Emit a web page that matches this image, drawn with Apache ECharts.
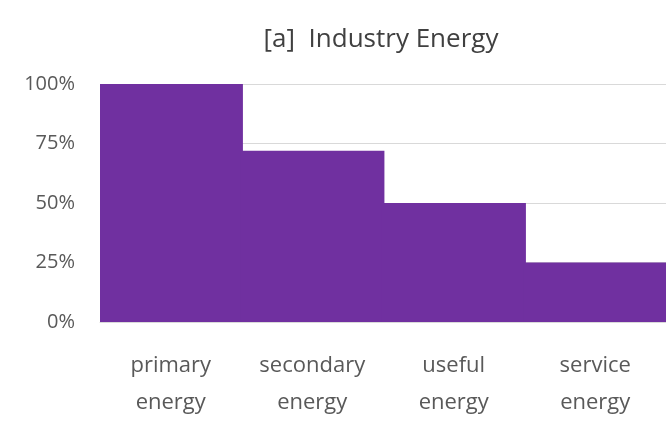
<!DOCTYPE html>
<html>
<head>
<meta charset="utf-8">
<script src="https://cdn.jsdelivr.net/npm/echarts@6/dist/echarts.min.js"></script>
<style>
  html, body { margin: 0; padding: 0; background: #fff; }
  #chart { width: 666px; height: 426px; }
</style>
</head>
<body>
<div id="chart"></div>
<script>
const categories = ['primary\nenergy', 'secondary\nenergy', 'useful\nenergy', 'service\nenergy'];
const shareValues = [100, 72, 50, 25];
const yTicks = [0, 25, 50, 75, 100];

const chart = echarts.init(document.getElementById('chart'));
const font = 'Open Sans, Liberation Sans, sans-serif';

chart.setOption({
  animation: false,
  title: {
    text: '[a]  Industry Energy',
    left: 376,
    top: 22,
    textAlign: 'center',
    textStyle: { fontFamily: font, fontSize: 26, fontWeight: 'normal', color: '#404040' }
  },
  grid: { left: 100, right: 0, top: 84, bottom: 104 },
  xAxis: {
    type: 'category',
    data: categories,
    axisTick: { show: false },
    axisLine: { lineStyle: { color: '#d9d9d9', width: 1 } },
    axisLabel: {
      interval: 0,
      hideOverlap: false,
      margin: 25,
      fontFamily: font,
      fontSize: 22,
      lineHeight: 37,
      color: '#595959'
    }
  },
  yAxis: {
    type: 'value',
    min: yTicks[0],
    max: yTicks[yTicks.length - 1],
    interval: 25,
    axisLine: { show: false },
    axisTick: { show: false },
    splitLine: { lineStyle: { color: '#d9d9d9', width: 1 } },
    axisLabel: {
      margin: 25,
      fontFamily: font,
      fontSize: 20,
      color: '#595959',
      formatter: '{value}%'
    }
  },
  series: [{
    type: 'bar',
    data: shareValues,
    barWidth: '102%',
    barCategoryGap: 0,
    itemStyle: { color: '#7030a0' }
  }]
});
</script>
</body>
</html>
